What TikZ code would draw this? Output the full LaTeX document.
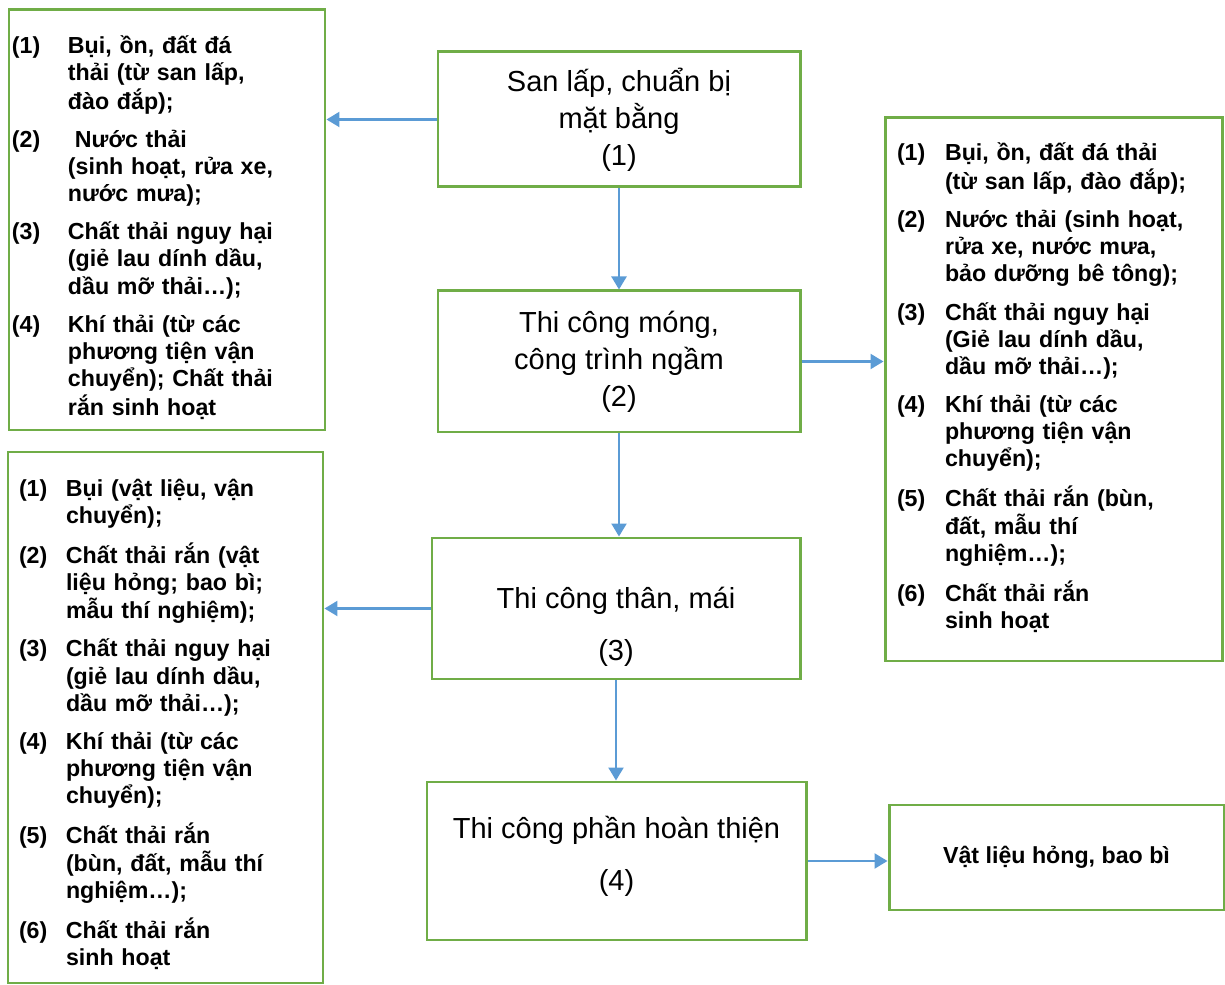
\documentclass[tikz,border=0pt]{standalone}
\usepackage{fontspec}
\setmainfont{Liberation Sans}
\usepackage{tikz}
\usetikzlibrary{positioning,arrows.meta}
\usepackage{xcolor}
\definecolor{boxgreen}{HTML}{70AD47}
\definecolor{flowblue}{HTML}{5B9BD5}

\begin{document}
\begin{tikzpicture}[>={Triangle[length=2.6mm,width=3mm]},
  stage/.style={draw=boxgreen,line width=1.7pt,align=center,inner sep=0pt,font=\fontsize{16.5}{21}\selectfont},
  waste/.style={draw=boxgreen,line width=1.7pt,align=left,inner ysep=0pt,font=\fontsize{13.2}{15.4}\selectfont\bfseries},
  flow/.style={->,draw=flowblue,line width=1.3pt}]
\useasboundingbox (0,0) rectangle (24.5,-19.7);
\node[stage,minimum width=7.24cm,minimum height=2.7cm] (san) at (12.38,-2.39) {San lấp, chuẩn bị\\mặt bằng\\(1)};
\node[stage,minimum width=7.24cm,minimum height=2.82cm] (mong) at (12.38,-7.23) {Thi công móng,\\công trình ngầm\\(2)};
\node[stage,minimum width=7.36cm,minimum height=2.82cm] (than) at (12.32,-12.17) {\rule{0pt}{33pt}Thi công thân, mái\\[8.6pt](3)};
\node[stage,minimum width=7.58cm,minimum height=3.16cm] (hoanthien) at (12.33,-17.22) {Thi công phần hoàn thiện\\[8.6pt](4)\rule[-9.2pt]{0pt}{1pt}};
\node[waste,inner xsep=0.06cm,text width=6.2cm,minimum height=8.4cm] (wasteA) at (3.34,-4.4) {\begin{tabular}{@{}p{1.12cm}@{}l@{}}
\rule{0pt}{21pt}(1) & Bụi, ồn, đất đá\\ & thải (từ san lấp,\\ & đào đắp);\\[6.3pt]
(2) & \hspace{0.14cm}Nước thải\\ & (sinh hoạt, rửa xe,\\ & nước mưa);\\[6.3pt]
(3) & Chất thải nguy hại\\ & (giẻ lau dính dầu,\\ & dầu mỡ thải…);\\[6.3pt]
(4) & Khí thải (từ các\\ & phương tiện vận\\ & chuyển); Chất thải\\ & rắn sinh hoạt
\end{tabular}};
\node[waste,inner xsep=0.22cm,text width=5.86cm,minimum height=10.62cm] (wasteC) at (3.31,-14.35) {\begin{tabular}{@{}p{0.94cm}@{}l@{}}
\rule{0pt}{20pt}(1) & Bụi (vật liệu, vận\\ & chuyển);\\[6.3pt]
(2) & Chất thải rắn (vật\\ & liệu hỏng; bao bì;\\ & mẫu thí nghiệm);\\[6.3pt]
(3) & Chất thải nguy hại\\ & (giẻ lau dính dầu,\\ & dầu mỡ thải…);\\[6.3pt]
(4) & Khí thải (từ các\\ & phương tiện vận\\ & chuyển);\\[6.3pt]
(5) & Chất thải rắn\\ & (bùn, đất, mẫu thí\\ & nghiệm…);\\[6.3pt]
(6) & Chất thải rắn\\ & sinh hoạt
\end{tabular}};
\node[waste,inner xsep=0.24cm,text width=6.26cm,minimum height=10.86cm] (wasteB) at (21.07,-7.79) {\begin{tabular}{@{}p{0.96cm}@{}l@{}}
(1) & Bụi, ồn, đất đá thải\\ & (từ san lấp, đào đắp);\\[6.3pt]
(2) & Nước thải (sinh hoạt,\\ & rửa xe, nước mưa,\\ & bảo dưỡng bê tông);\\[6.3pt]
(3) & Chất thải nguy hại\\ & (Giẻ lau dính dầu,\\ & dầu mỡ thải…);\\[6.3pt]
(4) & Khí thải (từ các\\ & phương tiện vận\\ & chuyển);\\[6.3pt]
(5) & Chất thải rắn (bùn,\\ & đất, mẫu thí\\ & nghiệm…);\\[6.3pt]
(6) & Chất thải rắn\\ & sinh hoạt
\end{tabular}};
\node[draw=boxgreen,line width=1.7pt,inner sep=0pt,minimum width=6.7cm,minimum height=2.1cm,font=\fontsize{13.2}{15.4}\selectfont\bfseries] (wasteD) at (21.13,-17.15) {Vật liệu hỏng, bao bì};
\draw[flow] (san.west) -- (san.west -| wasteA.east);
\draw[flow] (san.south) -- (mong.north);
\draw[flow] (mong.east) -- (mong.east -| wasteB.west);
\draw[flow] (mong.south) -- (mong.south |- than.north);
\draw[flow] (than.west) -- (than.west -| wasteC.east);
\draw[flow] (than.south) -- (than.south |- hoanthien.north);
\draw[flow] (hoanthien.east) -- (hoanthien.east -| wasteD.west);
\end{tikzpicture}
\end{document}
